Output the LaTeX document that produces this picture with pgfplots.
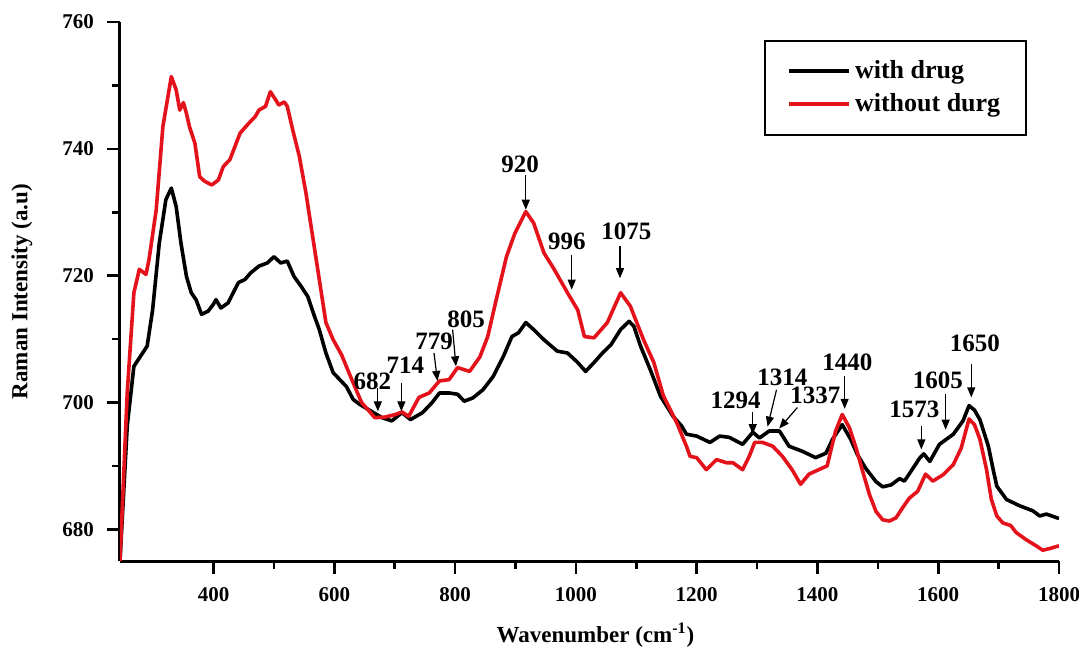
\documentclass[border=0pt]{standalone}
\usepackage{pgfplots}
\pgfplotsset{compat=1.18}
\usepackage{fontspec}
\setmainfont{Liberation Serif}
\usetikzlibrary{arrows.meta}
\definecolor{myred}{HTML}{E3121B}
\tikzset{
  anno/.style={font=\fontsize{12.5}{14}\selectfont\bfseries, inner sep=0pt},
  arr/.style={line width=0.6pt, -{Triangle[length=5pt,width=4pt]}},
}

\pgfplotstableread{
x y
245 675
257 696.3
268 705.7
279 707.3
290 708.9
299 714.6
310 725.1
321 732
330 733.8
338 730.9
346 725.1
355 719.9
363 717.3
371 716.2
380 713.9
391 714.4
399 715.4
404 716.2
412 714.9
424 715.7
441 718.9
452 719.4
461 720.4
475 721.5
489 722
500 723
511 722
522 722.3
533 719.9
545 718.3
556 716.7
567 713.6
575 711.5
586 707.8
598 704.7
609 703.6
620 702.5
631 700.5
642 699.7
656 698.9
679 697.6
695 697.1
712 698.4
726 697.3
746 698.4
762 700
774 701.5
790 701.5
804 701.3
815 700.2
829 700.7
846 702
863 704.1
880 707.3
894 710.4
905 711
917 712.6
930 711.5
947 709.9
969 708.1
986 707.8
1003 706.3
1016 704.9
1030 706.3
1044 707.8
1058 709.1
1074 711.5
1088 712.8
1096 712
1107 708.9
1123 705.2
1140 701
1161 697.8
1175 696.3
1183 695
1200 694.7
1222 693.7
1238 694.7
1254 694.5
1276 693.4
1293 695.3
1304 694.4
1320 695.5
1337 695.5
1353 693.1
1375 692.3
1397 691.3
1414 692
1425 694.2
1441 696.5
1455 694.2
1466 691.8
1480 689.6
1497 687.5
1508 686.7
1522 687
1536 688
1544 687.6
1558 689.6
1569 691.2
1576 691.9
1586 690.7
1602 693.4
1625 695
1641 697.1
1651 699.5
1660 698.8
1669 697.3
1683 693.1
1691 689.4
1697 686.8
1713 684.7
1735 683.7
1757 682.9
1768 682.1
1779 682.4
1800 681.7
}\withdrug

\pgfplotstableread{
x y
245 675
257 701.6
268 717.3
277 721
288 720.2
293 722.5
305 730.4
316 743.5
330 751.4
338 749.3
344 746.1
350 747.3
355 745.6
360 743.5
369 740.9
377 735.6
385 734.9
397 734.3
408 735.1
416 737.2
427 738.3
444 742.5
458 744
469 745.1
475 746.1
486 746.7
494 749
503 747.7
508 746.9
517 747.4
522 746.7
531 743
542 738.8
553 733
564 726.2
575 719.4
586 712.6
598 709.9
612 707.5
628 703.8
645 700
667 697.6
684 697.7
701 698.1
712 698.5
723 697.8
740 700.8
757 701.5
774 703.4
790 703.6
804 705.5
824 704.9
841 707.2
854 710.4
868 716.2
885 723
899 726.7
917 730.1
930 728.3
947 723.6
964 721
986 717.3
1003 714.6
1014 710.4
1030 710.2
1052 712.6
1074 717.3
1090 715.2
1112 709.9
1129 706.3
1145 701
1167 696.8
1183 693.1
1189 691.5
1200 691.3
1216 689.4
1233 691
1249 690.5
1260 690.5
1276 689.4
1287 691.5
1296 693.7
1309 693.7
1326 693.1
1342 691.5
1358 689.4
1372 687.1
1386 688.7
1402 689.4
1416 690
1430 695.5
1441 698.1
1453 696
1464 692.8
1475 689.1
1486 685.5
1497 682.8
1508 681.5
1519 681.3
1530 681.8
1541 683.4
1552 684.9
1566 686
1579 688.7
1591 687.6
1608 688.6
1625 690.2
1638 692.8
1651 697.4
1660 696.5
1669 694.2
1680 689.4
1688 684.7
1697 682.1
1707 681
1720 680.6
1729 679.5
1745 678.4
1762 677.4
1773 676.7
1786 677
1800 677.4
}\withoutdrug

\begin{document}
\begin{tikzpicture}
\useasboundingbox (-60pt,-43.5pt) rectangle (479.5pt,280.5pt);
\begin{axis}[
  at={(0pt,0pt)}, anchor=south west,
  scale only axis, width=469.5pt, height=269.5pt,
  xmin=245, xmax=1800, ymin=675, ymax=760,
  axis lines=left,
  axis line style={-, line width=1.5pt},
  xtick={400,600,...,1800}, ytick={680,700,...,760},
  minor x tick num=1, minor y tick num=1,
  tick align=outside,
  major tick length=6.5pt, minor tick length=4pt,
  every tick/.style={black, line width=1.3pt},
  /pgf/number format/assume math mode=true,
  /pgf/number format/1000 sep={},
  tick label style={font=\fontsize{10.5}{12}\selectfont\bfseries},
  xticklabel style={yshift=-3pt},
  yticklabel style={xshift=-3pt},
  xlabel={Wavenumber (cm\textsuperscript{-1})},
  ylabel={Raman Intensity (a.u)},
  xlabel style={at={(axis description cs:0.5,0)}, anchor=center, yshift=-37pt, xshift=3pt, font=\fontsize{11.5}{14}\selectfont\bfseries},
  ylabel style={at={(axis description cs:-0.1044,0.5)}, anchor=center, font=\fontsize{11.5}{14}\selectfont\bfseries},
  legend style={at={(0.9659,0.9666)}, anchor=north east, draw=black, line width=0.75pt,
    font=\fontsize{13}{15}\selectfont\bfseries, inner xsep=11pt, inner ysep=8pt, row sep=2pt},
  legend cell align=left,
  legend image code/.code={\draw[#1, line width=2pt] (0pt,0pt) -- (30pt,0pt);},
]
\addplot[black, line width=1.8pt, line join=round] table[x=x,y=y] {\withdrug};
\addlegendentry{with drug}
\addplot[myred, line width=1.8pt, line join=round] table[x=x,y=y] {\withoutdrug};
\addlegendentry{without durg}

\node[anno] at (axis cs:663,703.4) {682};
\draw[arr] (axis cs:672,702.3) -- (axis cs:672,698.6);
\node[anno] at (axis cs:717.6,705.8) {714};
\draw[arr] (axis cs:711,703.1) -- (axis cs:711,698.6);
\node[anno] at (axis cs:765,709.7) {779};
\draw[arr] (axis cs:765,707.8) -- (axis cs:770.7,703.4);
\node[anno] at (axis cs:818,713.1) {805};
\draw[arr] (axis cs:795.8,711.5) -- (axis cs:801.4,705.7);
\node[anno] at (axis cs:907.5,737.5) {920};
\draw[arr] (axis cs:917,735.9) -- (axis cs:917,730.4);
\node[anno] at (axis cs:985,725.4) {996};
\draw[arr] (axis cs:993,723.3) -- (axis cs:993,717.8);
\node[anno] at (axis cs:1083.7,727) {1075};
\draw[arr] (axis cs:1073,724.6) -- (axis cs:1073,719.6);
\node[anno] at (axis cs:1264.4,700.4) {1294};
\draw[arr] (axis cs:1292.8,698.5) -- (axis cs:1292.8,695);
\node[anno] at (axis cs:1342,704) {1314};
\draw[arr] (axis cs:1332.2,702) -- (axis cs:1317.4,696.2);
\node[anno] at (axis cs:1396.7,701.1) {1337};
\draw[arr] (axis cs:1366.7,699.2) -- (axis cs:1336.6,695.9);
\node[anno] at (axis cs:1449.7,706.4) {1440};
\draw[arr] (axis cs:1445,704.1) -- (axis cs:1445,699);
\node[anno] at (axis cs:1560.4,698.9) {1573};
\draw[arr] (axis cs:1572,696.3) -- (axis cs:1572,692.6);
\node[anno] at (axis cs:1599.5,703.5) {1605};
\draw[arr] (axis cs:1612.3,701.3) -- (axis cs:1612.3,695.7);
\node[anno] at (axis cs:1660.6,709.3) {1650};
\draw[arr] (axis cs:1654.7,706.1) -- (axis cs:1654.7,700.8);
\end{axis}
\end{tikzpicture}
\end{document}
